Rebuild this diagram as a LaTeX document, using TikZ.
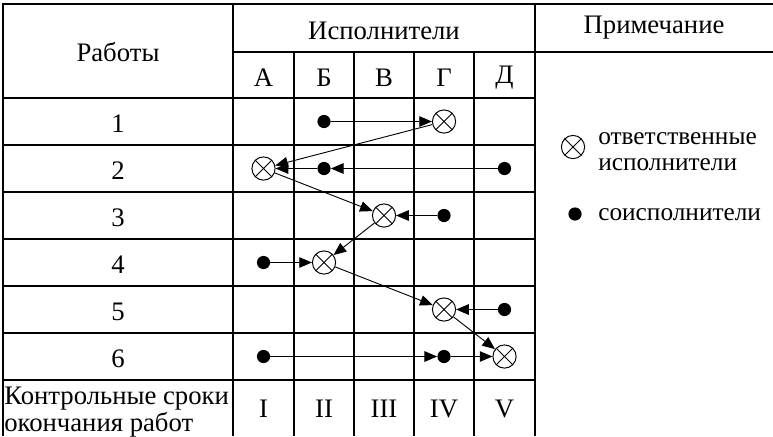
\documentclass[tikz,border=0pt]{standalone}
\usepackage{fontspec}
\setmainfont{Liberation Serif}
\usetikzlibrary{arrows.meta}

\tikzset{
  resp/.style={circle, draw, line width=0.7pt, minimum size=0.58cm, inner sep=0pt,
    path picture={\draw[line width=0.7pt]
      (path picture bounding box.north west) -- (path picture bounding box.south east)
      (path picture bounding box.north east) -- (path picture bounding box.south west);}},
  coop/.style={circle, fill, minimum size=0.33cm, inner sep=0pt},
  link/.style={line width=0.65pt, -{Triangle[length=9pt,width=7.5pt]}},
  rule/.style={line width=1.3pt},
  txt/.style={font=\fontsize{19}{19}\selectfont, inner sep=0pt},
  keytxt/.style={font=\fontsize{18}{19}\selectfont, inner sep=0pt}
}

\begin{document}
\begin{tikzpicture}[x=0.025cm, y=-0.025cm]
     \useasboundingbox (0,0) rectangle (773,436);

        % Table outline and header rules
        \draw[rule] (3,436) -- (3,4) -- (773,4);
        \draw[rule] (233,4) -- (233,436);
        \draw[rule] (535,4) -- (535,436);
        \draw[rule] (233,52) -- (773,52);
        \draw[rule] (3,98) -- (535,98);

        % Columns of the executors
        \draw[rule] (294,52) -- (294,436);
        \draw[rule] (354,52) -- (354,436);
        \draw[rule] (414,52) -- (414,436);
        \draw[rule] (474,52) -- (474,436);

        % Rows of the works
        \draw[rule] (3,145) -- (535,145);
        \draw[rule] (3,192) -- (535,192);
        \draw[rule] (3,239) -- (535,239);
        \draw[rule] (3,286) -- (535,286);
        \draw[rule] (3,333) -- (535,333);
        \draw[rule] (3,380) -- (535,380);

        % Header texts
        \node[txt] (works) at (118,52.5) {Работы};
        \node[txt] (execs) at (384,31) {Исполнители};
        \node[txt] (notes) at (654,28) {Примечание};
        \node[txt] (hA) at (263.5,78) {А};
        \node[txt] (hB) at (324,78) {Б};
        \node[txt] (hV) at (384,78) {В};
        \node[txt] (hG) at (444,78) {Г};
        \node[txt] (hD) at (504.5,78) {Д};

        % Numbers of the works
        \node[txt] (n1) at (118,124) {1};
        \node[txt] (n2) at (118,171) {2};
        \node[txt] (n3) at (118,218) {3};
        \node[txt] (n4) at (118,265) {4};
        \node[txt] (n5) at (118,312) {5};
        \node[txt] (n6) at (118,359) {6};

        % Control terms
        \node[txt, anchor=north west, align=left, font=\fontsize{19}{14}\selectfont]
             (terms) at (4,387) {Контрольные сроки\\окончания работ};
        \node[txt] (t1) at (263.5,408.5) {I};
        \node[txt] (t2) at (324,408.5) {II};
        \node[txt] (t3) at (384,408.5) {III};
        \node[txt] (t4) at (444,408.5) {IV};
        \node[txt] (t5) at (504.5,408.5) {V};

        % Responsible executors and co-executors
        \node[coop] (b1) at (324,121.5) {};     % work 1
        \node[resp] (g1) at (444,121.5) {};
        \node[resp] (a2) at (263.5,168.5) {};   % work 2
        \node[coop] (b2) at (324,168.5) {};
        \node[coop] (d2) at (504.5,168.5) {};
        \node[resp] (v3) at (384,215.5) {};     % work 3
        \node[coop] (g3) at (444,215.5) {};
        \node[coop] (a4) at (263.5,262.5) {};   % work 4
        \node[resp] (b4) at (324,262.5) {};
        \node[resp] (g5) at (444,309.5) {};     % work 5
        \node[coop] (d5) at (504.5,309.5) {};
        \node[coop] (a6) at (263.5,356.5) {};   % work 6
        \node[coop] (g6) at (444,356.5) {};
        \node[resp] (d6) at (504.5,356.5) {};

        % Links inside the rows
        \draw[link] (b1) -- (g1);
        \draw[link] (d2) -- (b2);
        \draw[link] (b2) -- (a2);
        \draw[link] (g3) -- (v3);
        \draw[link] (a4) -- (b4);
        \draw[link] (d5) -- (g5);
        \draw[link] (a6) -- (g6);
        \draw[link] (g6) -- (d6);

        % Links from work to work
        \draw[link] (g1) -- (a2);
        \draw[link] (a2) -- (v3);
        \draw[link] (v3) -- (b4);
        \draw[link] (b4) -- (g5);
        \draw[link] (g5) -- (d6);

        % Legend
        \node[resp] (keyresp) at (573,147) {};
        \node[keytxt, anchor=north west, align=left] (keyresptext) at (598,132)
             {ответственные\\исполнители};
        \node[coop] (keycoop) at (575,214) {};
        \node[keytxt, anchor=west] (keycooptext) at (598,215) {соисполнители};

 \end{tikzpicture}
\end{document}
